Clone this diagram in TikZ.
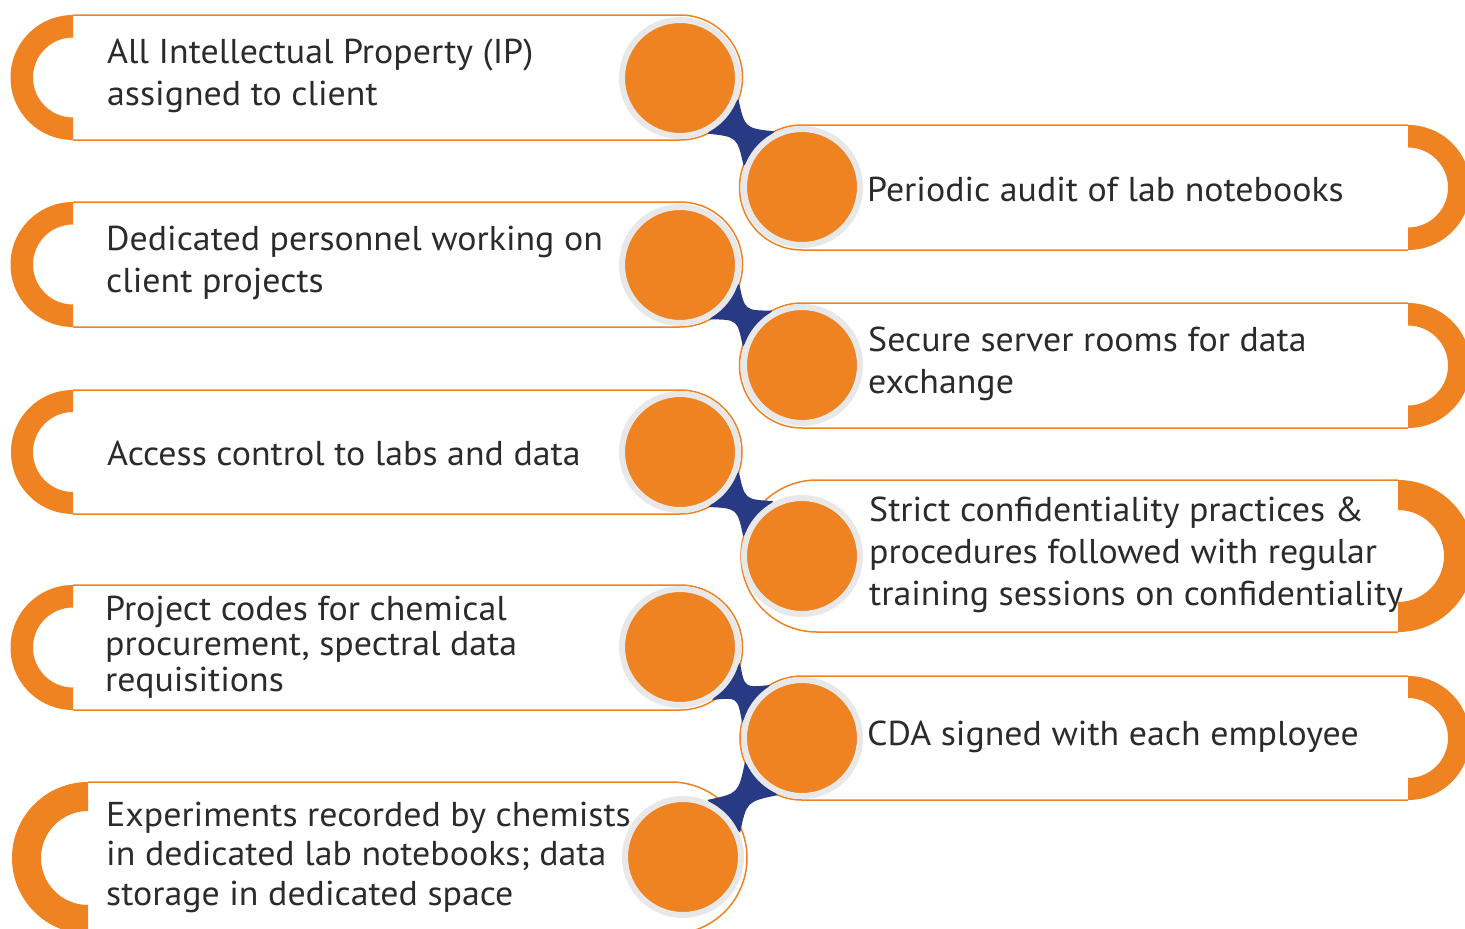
\documentclass[tikz,border=0pt]{standalone}
\usepackage{fontspec}
\setmainfont{PT Sans}[FakeStretch=1.04]
\usetikzlibrary{calc}
\definecolor{myorange}{HTML}{EF8221}
\definecolor{myblue}{HTML}{293A84}
\definecolor{ringgray}{HTML}{E8E8E8}
\definecolor{txt}{HTML}{2B2B2B}
\tikzset{
  cardline/.style={draw=myorange, line width=1.5pt, fill=white},
  capfill/.style={fill=myorange},
  bead/.style={circle, fill=myorange, draw=ringgray, line width=6pt, minimum size=116pt, inner sep=0pt},
  bridgefill/.style={fill=myblue},
  label/.style={anchor=west, align=left, text=txt, inner sep=0pt, font=\fontsize{34.5}{42}\selectfont}
}
\newcommand{\bridge}[2]{%
  \path ($(#1.center)!0.5!(#2.center)$) coordinate (bm)
        ($(#1.center)!62pt!22:(#2.center)$) coordinate (ba1)
        ($(#1.center)!62pt!-22:(#2.center)$) coordinate (ba2)
        ($(#2.center)!62pt!-22:(#1.center)$) coordinate (bb1)
        ($(#2.center)!62pt!22:(#1.center)$) coordinate (bb2);
  \path ($(ba1)!0.5!(bb1)$) coordinate (bk1) ($(ba2)!0.5!(bb2)$) coordinate (bk2);
  \path ($(bm)!0.25!(bk1)$) coordinate (bc1) ($(bm)!0.25!(bk2)$) coordinate (bc2);
  \fill[bridgefill] (ba1) .. controls (bc1) .. (bb1) -- (bb2) .. controls (bc2) .. (ba2) -- cycle;}
\begin{document}
\begin{tikzpicture}[x=1pt,y=-1pt]
\useasboundingbox (0,0) rectangle (1465,929);
\clip (0,0) rectangle (1465,929);
% ---------- left cards ----------
% L1
\draw[cardline] (73,15) -- (680,15) arc[start angle=90,end angle=-90,radius=62.5pt] -- (73,140);
\fill[capfill] (73,15) arc[start angle=90,end angle=270,radius=62.5pt] -- (73,117.5) arc[start angle=270,end angle=90,radius=40pt] -- cycle;
% L2
\draw[cardline] (73,202) -- (680,202) arc[start angle=90,end angle=-90,radius=62.5pt] -- (73,327);
\fill[capfill] (73,202) arc[start angle=90,end angle=270,radius=62.5pt] -- (73,304.5) arc[start angle=270,end angle=90,radius=40pt] -- cycle;
% L3
\draw[cardline] (73,390) -- (680,390) arc[start angle=90,end angle=-90,radius=62pt] -- (73,514);
\fill[capfill] (73,390) arc[start angle=90,end angle=270,radius=62pt] -- (73,492) arc[start angle=270,end angle=90,radius=40pt] -- cycle;
% L4
\draw[cardline] (73,585) -- (680,585) arc[start angle=90,end angle=-90,radius=62.5pt] -- (73,710);
\fill[capfill] (73,585) arc[start angle=90,end angle=270,radius=62.5pt] -- (73,687.5) arc[start angle=270,end angle=90,radius=40pt] -- cycle;
% L5
\draw[cardline] (88,782) -- (671,782) arc[start angle=90,end angle=-90,radius=76pt] -- (88,934);
\fill[capfill] (88,782) arc[start angle=90,end angle=270,radius=76pt] -- (88,905) arc[start angle=270,end angle=90,radius=47pt] -- cycle;
% ---------- right cards ----------
% R1
\draw[cardline] (1408,125) -- (802,125) arc[start angle=90,end angle=270,radius=62.5pt] -- (1408,250);
\fill[capfill] (1408,125) arc[start angle=90,end angle=-90,radius=62.5pt] -- (1408,227.5) arc[start angle=-90,end angle=90,radius=40pt] -- cycle;
% R2
\draw[cardline] (1408,303) -- (802,303) arc[start angle=90,end angle=270,radius=62.5pt] -- (1408,428);
\fill[capfill] (1408,303) arc[start angle=90,end angle=-90,radius=62.5pt] -- (1408,405.5) arc[start angle=-90,end angle=90,radius=40pt] -- cycle;
% R3
\draw[cardline] (1398,480) -- (817,480) arc[start angle=90,end angle=270,radius=76pt] -- (1398,632);
\fill[capfill] (1398,480) arc[start angle=90,end angle=-90,radius=76pt] -- (1398,602) arc[start angle=-90,end angle=90,radius=46pt] -- cycle;
% R4
\draw[cardline] (1408,676) -- (802,676) arc[start angle=90,end angle=270,radius=62pt] -- (1408,800);
\fill[capfill] (1408,676) arc[start angle=90,end angle=-90,radius=62pt] -- (1408,778) arc[start angle=-90,end angle=90,radius=40pt] -- cycle;
% ---------- bead positions ----------
\coordinate (L1c) at (680,78);
\coordinate (L2c) at (680,265);
\coordinate (L3c) at (680,452);
\coordinate (L4c) at (680,647);
\coordinate (L5c) at (683,857);
\coordinate (R1c) at (802,187);
\coordinate (R2c) at (802,365);
\coordinate (R3c) at (802,556);
\coordinate (R4c) at (802,738);
% ---------- bridges ----------
\bridge{L1c}{R1c}
\bridge{L2c}{R2c}
\bridge{L3c}{R3c}
\bridge{L4c}{R4c}
\bridge{R4c}{L5c}
% ---------- beads ----------
\foreach \b in {L1c,L2c,L3c,L4c,L5c,R1c,R2c,R3c,R4c}{\node[bead] at (\b) {};}
% ---------- labels ----------
\node[label] (t1) at (107,76) {All Intellectual Property (IP)\\assigned to client};
\node[label] (t2) at (106,263) {Dedicated personnel working on\\client projects};
\node[label] (t3) at (107,453) {Access control to labs and data};
\node[label, font=\fontsize{34.5}{35.5}\selectfont] (t4) at (105,647) {Project codes for chemical\\procurement, spectral data\\requisitions};
\node[label, font=\fontsize{34.5}{39.5}\selectfont] (t5) at (106,857) {Experiments recorded by chemists\\in dedicated lab notebooks; data\\storage in dedicated space};
\node[label] (t6) at (867,189) {Periodic audit of lab notebooks};
\node[label] (t7) at (868,364) {Secure server rooms for data\\exchange};
\node[label] (t8) at (869,555) {Strict confidentiality practices \&\\procedures followed with regular\\training sessions on confidentiality};
\node[label] (t9) at (867,737) {CDA signed with each employee};
\end{tikzpicture}
\end{document}
